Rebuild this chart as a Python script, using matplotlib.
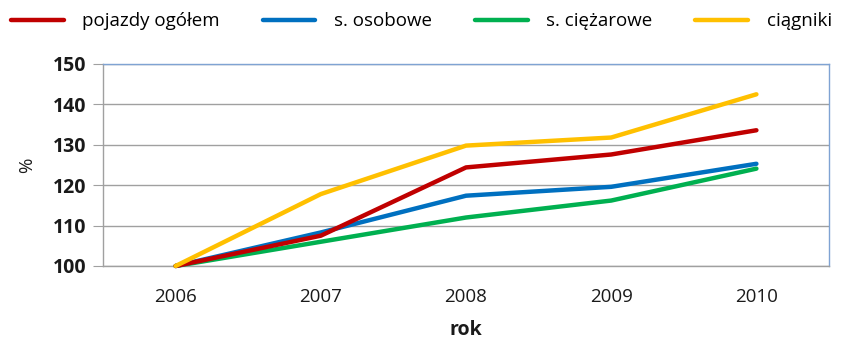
import matplotlib
matplotlib.use("Agg")
import matplotlib.pyplot as plt
from matplotlib.lines import Line2D

plt.rcParams['font.family'] = ['Open Sans', 'DejaVu Sans']

years = ["2006", "2007", "2008", "2009", "2010"]
labels = ["pojazdy ogółem", "s. osobowe", "s. ciężarowe", "ciągniki"]
colors = ["#C00000", "#0070C0", "#00B050", "#FFC000"]
pojazdy = [100, 107.5, 124.4, 127.6, 133.6]
osobowe = [100, 108.3, 117.4, 119.6, 125.3]
ciezarowe = [100, 106.0, 112.0, 116.2, 124.1]
ciagniki = [100, 117.8, 129.8, 131.8, 142.5]
series = [pojazdy, osobowe, ciezarowe, ciagniki]
# drawing order: green, blue, red, yellow on top
order = [2, 1, 0, 3]

fig = plt.figure(figsize=(8.43, 3.45), dpi=100)
ax = fig.add_axes([0.1222, 0.229, 0.8612, 0.5855])

x = list(range(len(years)))
for i in order:
    ax.plot(x, series[i], color=colors[i], linewidth=3.2, solid_capstyle='round',
            zorder=3, clip_on=False)

ax.set_xlim(-0.5, len(years) - 0.5)
ax.set_ylim(100, 150)
ax.set_yticks(range(100, 151, 10))
ax.set_xticks(x)
ax.set_xticklabels(years)
ax.yaxis.grid(True, color="#A0A0A0", linewidth=1.0)
ax.set_axisbelow(True)

for side in ("left", "bottom"):
    ax.spines[side].set_color("#A0A0A0")
    ax.spines[side].set_linewidth(1.0)
for side in ("top", "right"):
    ax.spines[side].set_color("#7FA3D3")
    ax.spines[side].set_linewidth(1.0)

ax.tick_params(axis='y', length=7, color="#A0A0A0", labelsize=14, pad=5, labelcolor="#1a1a1a")
ax.tick_params(axis='x', length=0, labelsize=13.5, pad=16, labelcolor="#1a1a1a")
for t in ax.get_yticklabels():
    t.set_fontweight('bold')

ax.set_xlabel("rok", fontsize=14, fontweight='bold', labelpad=10, color="#1a1a1a")
ax.set_ylabel("%", fontsize=13.5, labelpad=12, color="#1a1a1a")

handles = [Line2D([], [], color=c, linewidth=3.2, solid_capstyle='round') for c in colors]
fig.legend(handles, labels, loc='lower left', bbox_to_anchor=(0.0, 0.88, 1.0, 0.1),
           mode='expand', ncol=4, frameon=False, fontsize=13.5,
           handlelength=2.8, handletextpad=1.0, borderaxespad=0.2)

fig.savefig("out.png", dpi=100)
